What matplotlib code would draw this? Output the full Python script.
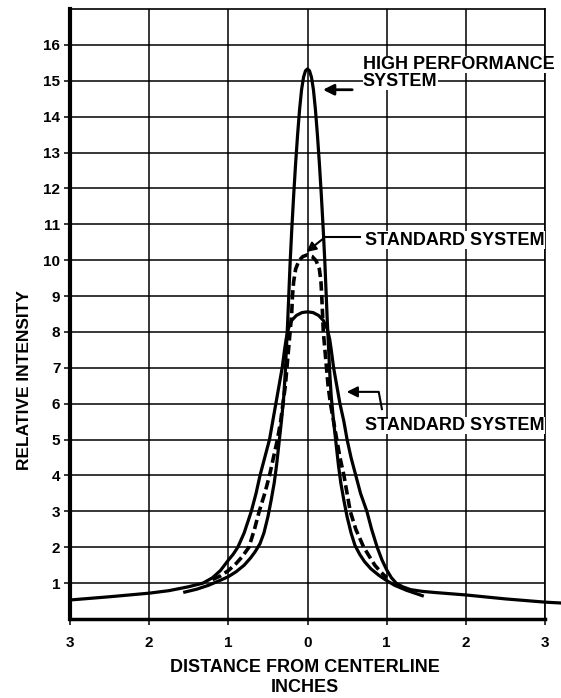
import numpy as np
import matplotlib.pyplot as plt

plt.rcParams['font.family'] = ['Liberation Sans', 'DejaVu Sans']
plt.rcParams['font.weight'] = 'bold'

# standard system, solid line (flat top ~8.5, long tails)
std_x = [-3.0, -2.5, -2.0, -1.75, -1.5, -1.32, -1.2, -1.1, -1.0, -0.94, -0.88, -0.8, -0.71,
         -0.65, -0.6, -0.54, -0.48, -0.44, -0.4, -0.36, -0.32, -0.29, -0.27, -0.24, -0.2,
         -0.14, -0.07, 0.0, 0.07, 0.14, 0.2, 0.25, 0.28, 0.3, 0.33, 0.37, 0.41, 0.46, 0.5,
         0.55, 0.61, 0.67, 0.75, 0.81, 0.88, 0.94, 1.0, 1.06, 1.12, 1.2, 1.3, 1.45, 1.6,
         2.0, 2.5, 3.0, 3.25]
std_y = [0.53, 0.62, 0.72, 0.79, 0.9, 1.0, 1.15, 1.35, 1.64, 1.8, 2.0, 2.4, 3.0,
         3.5, 4.0, 4.5, 5.0, 5.5, 6.0, 6.5, 7.0, 7.5, 7.8, 8.1, 8.32,
         8.46, 8.54, 8.56, 8.54, 8.46, 8.32, 8.08, 7.8, 7.5, 7.0, 6.5, 6.0, 5.5, 5.0,
         4.5, 4.0, 3.5, 3.0, 2.5, 2.0, 1.65, 1.37, 1.15, 1.0, 0.9, 0.82, 0.77, 0.74,
         0.67, 0.56, 0.47, 0.44]

# high performance system, solid line
hp_x = [-1.55, -1.4, -1.25, -1.1, -1.0, -0.9, -0.8, -0.72, -0.66, -0.6, -0.55, -0.5, -0.46,
        -0.42, -0.39, -0.36, -0.33, -0.3, -0.28, -0.265, -0.25, -0.235, -0.22, -0.2,
        -0.175, -0.15, -0.125, -0.1, -0.075, -0.05, -0.025, 0.0, 0.025, 0.05, 0.075, 0.1,
        0.125, 0.15, 0.175, 0.2, 0.22, 0.235, 0.25, 0.265, 0.28, 0.3, 0.33, 0.36, 0.39,
        0.42, 0.46, 0.5, 0.55, 0.6, 0.66, 0.72, 0.8, 0.9, 1.0, 1.1, 1.25, 1.45]
hp_y = [0.75, 0.83, 0.94, 1.08, 1.18, 1.32, 1.5, 1.7, 1.88, 2.1, 2.4, 2.85, 3.3,
        3.8, 4.3, 4.9, 5.5, 6.2, 6.9, 7.6, 8.3, 9.1, 9.9, 10.8,
        11.8, 12.7, 13.5, 14.2, 14.75, 15.1, 15.28, 15.33, 15.28, 15.1, 14.75, 14.2,
        13.5, 12.7, 11.8, 10.8, 9.9, 9.1, 8.3, 7.6, 6.9, 6.2, 5.5, 4.9, 4.3,
        3.8, 3.3, 2.85, 2.4, 2.05, 1.8, 1.6, 1.4, 1.22, 1.07, 0.94, 0.8, 0.65]

# standard system, dashed line (peak ~10.1)
dash_x = [-1.2, -1.1, -1.0, -0.9, -0.82, -0.74, -0.67, -0.61, -0.54, -0.48, -0.43, -0.38,
          -0.34, -0.31, -0.28, -0.26, -0.24, -0.22, -0.2, -0.19, -0.175, -0.15, -0.11, -0.06,
          0.0, 0.06, 0.11, 0.15, 0.17, 0.18, 0.19, 0.2, 0.22, 0.24, 0.26, 0.29, 0.33, 0.37,
          0.41, 0.46, 0.5, 0.54, 0.61, 0.71, 0.78, 0.85, 0.93, 1.0]
dash_y = [1.1, 1.2, 1.35, 1.55, 1.75, 2.0, 2.5, 3.0, 3.5, 4.0, 4.5, 5.0,
          5.5, 6.0, 6.5, 7.0, 7.5, 8.0, 8.5, 9.0, 9.4, 9.75, 9.98, 10.1,
          10.15, 10.1, 9.98, 9.75, 9.4, 9.0, 8.5, 8.0, 7.5, 7.0, 6.5, 6.0, 5.5, 5.0,
          4.5, 4.0, 3.5, 3.0, 2.5, 2.0, 1.75, 1.5, 1.3, 1.15]

x_ticks = [-3, -2, -1, 0, 1, 2, 3]
x_labels = ['3', '2', '1', '0', '1', '2', '3']
y_ticks = list(range(1, 17))

W, H = 561, 698
fig = plt.figure(figsize=(W / 100, H / 100), dpi=100)
ax = fig.add_axes([70 / W, 79 / H, 475 / W, 610 / H])

ax.set_xlim(-3, 3)
ax.set_ylim(0, 17)
ax.set_xticks(x_ticks)
ax.set_xticklabels(x_labels)
ax.set_yticks(y_ticks)
ax.tick_params(axis='both', length=4, width=1.1, color='black', labelsize=11)
ax.tick_params(axis='x', pad=8)
ax.tick_params(axis='y', pad=3)
ax.grid(True, color='black', lw=1.1)
ax.set_axisbelow(True)

ax.spines['left'].set_linewidth(3)
ax.spines['bottom'].set_linewidth(2.5)
ax.spines['top'].set_linewidth(1.2)
ax.spines['right'].set_linewidth(1.2)

ax.plot(std_x, std_y, color='black', lw=2.3, clip_on=False, solid_joinstyle='round')
ax.plot(hp_x, hp_y, color='black', lw=2.3, solid_joinstyle='round')
ax.plot(dash_x, dash_y, color='black', lw=2.6, dashes=(2.6, 1.2))

tfont = dict(fontsize=13, fontweight='bold', va='baseline', ha='left', zorder=5,
             bbox=dict(facecolor='white', edgecolor='none', pad=0.3))

# high performance label + arrow
ax.text(0.70, 15.33, 'HIGH PERFORMANCE', **tfont)
ax.text(0.70, 14.86, 'SYSTEM', **tfont)
ax.annotate('', xy=(0.16, 14.75), xytext=(0.6, 14.75),
            arrowprops=dict(arrowstyle='-|>', color='black', lw=2, mutation_scale=16))

# standard system (dashed) label + arrow
ax.text(0.73, 10.43, 'STANDARD SYSTEM', **tfont)
ax.plot([0.66, 0.22], [10.64, 10.64], color='black', lw=1.5)
ax.annotate('', xy=(-0.04, 10.18), xytext=(0.22, 10.64),
            arrowprops=dict(arrowstyle='-|>', color='black', lw=1.5, mutation_scale=14))

# standard system (solid) label + arrow
ax.text(0.73, 5.27, 'STANDARD SYSTEM', **tfont)
ax.plot([0.94, 0.9, 0.62], [5.85, 6.33, 6.33], color='black', lw=1.5)
ax.annotate('', xy=(0.46, 6.33), xytext=(0.62, 6.33),
            arrowprops=dict(arrowstyle='-|>', color='black', lw=1.5, mutation_scale=16))

fig.text(25 / W, 1 - 380 / H, 'RELATIVE INTENSITY', rotation=90, fontsize=12.5,
         fontweight='bold', ha='center', va='center')
fig.text(305 / W, 1 - 668 / H, 'DISTANCE FROM CENTERLINE', fontsize=13,
         fontweight='bold', ha='center', va='center')
fig.text(305 / W, 1 - 687 / H, 'INCHES', fontsize=13,
         fontweight='bold', ha='center', va='center')

fig.savefig('out.png', dpi=100)
